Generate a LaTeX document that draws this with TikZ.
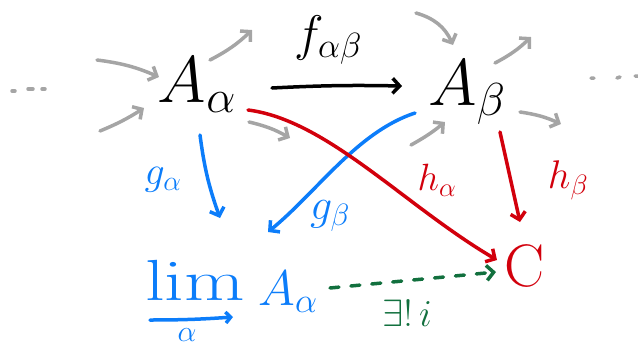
\RequirePackage{fix-cm}
\documentclass[tikz,border=0pt]{standalone}
\usetikzlibrary{arrows.meta,calc}
\definecolor{hgray}{RGB}{165,165,165}
\definecolor{hblue}{RGB}{12,125,250}
\definecolor{hred}{RGB}{210,0,12}
\definecolor{hgreen}{RGB}{18,112,62}
\begin{document}
\begin{tikzpicture}[x=1pt,y=-1pt,line cap=round,line join=round,
  lbl/.style={inner sep=0pt},
  tip/.style={-{Straight Barb[length=7pt,width=15pt,line width=3.5pt]}},
  pen/.style={line width=3.5pt,tip},
  gpen/.style={pen,draw=hgray},
  bpen/.style={pen,draw=hblue},
  rpen/.style={pen,draw=hred},
  dotpen/.style={draw=hgray,line width=3.5pt}]
\useasboundingbox (0,0) rectangle (638,349);
% main objects
\node[lbl,font=\fontsize{66}{66}\selectfont] (Aa) at (197,85) {$A_{\alpha}$};
\node[lbl,font=\fontsize{66}{66}\selectfont] (Ab) at (467,92) {$A_{\beta}$};
\node[lbl,font=\fontsize{60}{60}\selectfont,text=hred] (C) at (525,266) {$\mathrm{C}$};
\node[lbl,font=\fontsize{58}{58}\selectfont,text=hblue] (lim) at (195,280) {\scalebox{1.35}[1]{$\mathrm{lim}$}};
\node[lbl,font=\fontsize{50}{50}\selectfont,text=hblue] (LA) at (288,292) {$A_\alpha$};
\node[lbl,font=\fontsize{30}{30}\selectfont,text=hblue] (la) at (187,335) {$\alpha$};
% labels
\node[lbl,font=\fontsize{50}{50}\selectfont] (f) at (328,40) {$f_{\alpha\beta}$};
\node[lbl,font=\fontsize{40}{40}\selectfont,text=hblue] (ga) at (163,180) {$g_\alpha$};
\node[lbl,font=\fontsize{44}{44}\selectfont,text=hblue] (gb) at (330,216) {$g_\beta$};
\node[lbl,font=\fontsize{38}{38}\selectfont,text=hred] (ha) at (437,180) {$h_\alpha$};
\node[lbl,font=\fontsize{40}{40}\selectfont,text=hred] (hb) at (568,180) {$h_\beta$};
\node[lbl,font=\fontsize{38}{38}\selectfont,text=hgreen] (ex) at (407,313) {$\exists!\,i$};
% f arrow
\draw[pen,draw=black] ($(Aa)+(75,3)$) to[bend left=2] ($(Ab)+(-65,-6)$);
% blue arrows
\draw[bpen] ($(Aa)+(3,50)$) to[bend right=6] ($(Aa)+(23,133)$);
\draw[bpen] ($(Ab)+(-52,21)$) .. controls ($(Ab)+(-110,40)$) and ($(Ab)+(-150,100)$) .. ($(LA)+(-20,-60)$);
\coordinate (u1) at (150,320);
\coordinate (u2) at (233,317);
\draw[bpen,-{Straight Barb[length=5pt,width=11pt,line width=3.5pt]}] (u1) to[bend right=2] (u2);
% red arrows
\draw[rpen] ($(Aa)+(51,25)$) .. controls ($(Aa)+(130,35)$) and ($(C)+(-120,-60)$) .. ($(C)+(-28,-6)$);
\draw[rpen] ($(Ab)+(33,40)$) -- ($(C)+(-5,-44)$);
% green dashed
\draw[line width=3.5pt,draw=hgreen,dash pattern=on 9pt off 12pt,tip] ($(LA)+(42,-4)$) -- ($(C)+(-29,6)$);
% gray arrows
\coordinate (p1) at (97,60);
\coordinate (p2) at (100,131);
\coordinate (p5) at (416,13);
\coordinate (p6) at (411,145);
\coordinate (q3) at (252,30);
\coordinate (q4) at (290,138);
\coordinate (q7) at (531,37);
\coordinate (q8) at (561,124);
\draw[gpen] (p1) to[bend left=8] ($(Aa)+(-38,-8)$);
\draw[gpen] (p2) to[bend right=5] ($(Aa)+(-53,23)$);
\draw[gpen] ($(Aa)+(13,-25)$) to[bend right=8] (q3);
\draw[gpen] ($(Aa)+(52,37)$) to[bend left=8] (q4);
\draw[gpen] (p5) to[bend left=25] ($(Ab)+(-14,-47)$);
\draw[gpen] (p6) to[bend right=5] ($(Ab)+(-22,30)$);
\draw[gpen] ($(Ab)+(28,-29)$) to[bend right=8] (q7);
\draw[gpen] ($(Ab)+(53,20)$) to[bend left=8] (q8);
% dots
\coordinate (d1) at (12,91);
\coordinate (d2) at (28,89);
\coordinate (d3) at (42,89);
\draw[dotpen] (d1) -- ++(3,0) (d2) -- ++(5,0) (d3) -- ++(3,0);
\coordinate (e1) at (591,78);
\coordinate (e2) at (617,78);
\coordinate (e3) at (635,76);
\draw[dotpen] (e1) -- ++(3,0) (e2) -- ++(3,-1) (e3) -- ++(3,0);
\end{tikzpicture}
\end{document}
